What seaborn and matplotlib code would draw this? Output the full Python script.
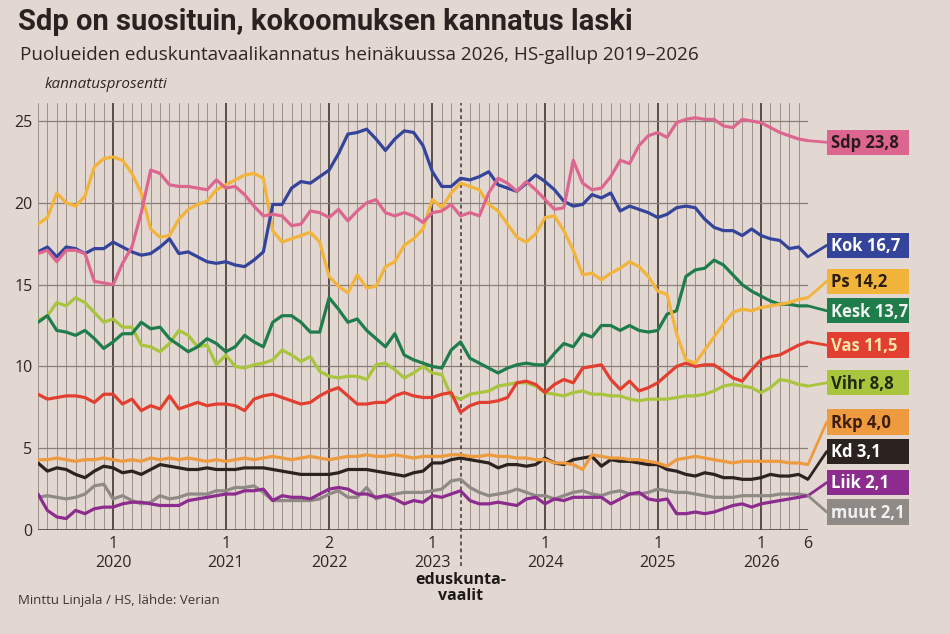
#!/usr/bin/env python3
"""HS-gallup: puolueiden kannatus 2019-2026, recreated with seaborn."""
import numpy as np
import pandas as pd
import matplotlib
matplotlib.use('Agg')
import matplotlib.pyplot as plt
from matplotlib.patches import Rectangle
import seaborn as sns

# one value per poll, May 2019 .. June 2026 (83 polls)
sdp = [16.9, 17.1, 16.4, 17.1, 17.1, 16.9, 15.2, 15.1, 15.0, 16.3,
       17.3, 19.4, 22.0, 21.8, 21.1, 21.0, 21.0, 20.9, 20.8, 21.4,
       20.9, 21.0, 20.5, 19.8, 19.2, 19.3, 19.2, 18.6, 18.7, 19.5,
       19.4, 19.1, 19.6, 18.9, 19.5, 20.0, 20.2, 19.4, 19.2, 19.4,
       19.2, 18.8, 19.4, 19.5, 19.9, 19.2, 19.4, 19.2, 20.6, 21.5,
       21.2, 20.7, 21.3, 20.8, 20.2, 19.6, 19.7, 22.6, 21.2, 20.8,
       20.9, 21.6, 22.6, 22.4, 23.5, 24.1, 24.3, 24.0, 24.9, 25.1,
       25.2, 25.1, 25.1, 24.7, 24.6, 25.1, 25.0, 24.9, 24.6, 24.3,
       24.1, 23.9, 23.8]
kok = [17.0, 17.3, 16.7, 17.3, 17.2, 16.9, 17.2, 17.2, 17.6, 17.3,
       17.0, 16.8, 16.9, 17.3, 17.8, 16.9, 17.0, 16.7, 16.4, 16.3,
       16.4, 16.2, 16.1, 16.5, 17.0, 19.9, 19.9, 20.9, 21.3, 21.2,
       21.6, 22.0, 23.0, 24.2, 24.3, 24.5, 23.9, 23.2, 23.9, 24.4,
       24.3, 23.5, 21.9, 21.0, 21.0, 21.5, 21.4, 21.6, 21.9, 21.1,
       20.9, 20.7, 21.2, 21.7, 21.3, 20.8, 20.1, 19.8, 19.9, 20.5,
       20.3, 20.6, 19.5, 19.8, 19.6, 19.4, 19.1, 19.3, 19.7, 19.8,
       19.7, 19.0, 18.5, 18.3, 18.3, 18.0, 18.4, 18.0, 17.8, 17.7,
       17.2, 17.3, 16.7]
ps = [18.7, 19.1, 20.6, 20.0, 19.8, 20.4, 22.2, 22.7, 22.8, 22.6,
      21.8, 20.6, 18.4, 17.9, 18.0, 19.0, 19.6, 19.9, 20.1, 20.8,
      21.1, 21.4, 21.7, 21.8, 21.5, 18.3, 17.6, 17.8, 18.0, 18.2,
      17.6, 15.5, 14.9, 14.5, 15.6, 14.8, 14.9, 16.1, 16.4, 17.4,
      17.8, 18.4, 20.2, 19.7, 20.6, 21.2, 21.0, 20.8, 19.9, 19.5,
      18.7, 17.9, 17.6, 18.1, 19.1, 19.2, 18.3, 17.1, 15.6, 15.7,
      15.3, 15.7, 16.0, 16.4, 16.1, 15.5, 14.6, 14.4, 12.0, 10.4,
      10.2, 11.0, 11.8, 12.6, 13.3, 13.5, 13.4, 13.6, 13.7, 13.8,
      13.9, 14.1, 14.2]
kesk = [12.7, 13.1, 12.2, 12.1, 11.9, 12.2, 11.7, 11.1, 11.5, 12.0,
        12.0, 12.7, 12.3, 12.4, 11.7, 11.3, 10.9, 11.2, 11.7, 11.4,
        10.9, 11.2, 11.9, 11.5, 11.2, 12.7, 13.1, 13.1, 12.7, 12.1,
        12.1, 14.2, 13.5, 12.7, 12.9, 12.2, 11.7, 11.2, 12.0, 10.7,
        10.4, 10.2, 10.0, 9.9, 11.0, 11.5, 10.5, 10.2, 9.9, 9.6,
        9.9, 10.1, 10.2, 10.1, 10.1, 10.8, 11.4, 11.2, 12.0, 11.8,
        12.5, 12.5, 12.2, 12.5, 12.2, 12.1, 12.2, 13.2, 13.4, 15.5,
        15.9, 16.0, 16.5, 16.2, 15.6, 15.0, 14.6, 14.3, 14.0, 13.8,
        13.8, 13.7, 13.7]
vas = [8.3, 8.0, 8.1, 8.2, 8.2, 8.1, 7.8, 8.3, 8.3, 7.7,
       8.0, 7.3, 7.6, 7.4, 8.2, 7.4, 7.6, 7.8, 7.6, 7.7,
       7.7, 7.6, 7.3, 8.0, 8.2, 8.3, 8.1, 7.9, 7.7, 7.8,
       8.2, 8.5, 8.7, 8.2, 7.7, 7.7, 7.8, 7.8, 8.2, 8.4,
       8.2, 8.1, 8.1, 8.3, 8.4, 7.2, 7.6, 7.8, 7.8, 7.9,
       8.1, 9.0, 9.1, 8.9, 8.4, 8.9, 9.2, 9.0, 9.9, 10.0,
       10.1, 9.2, 8.6, 9.1, 8.5, 8.7, 9.0, 9.5, 10.0, 10.2,
       10.0, 10.1, 10.1, 9.7, 9.3, 9.1, 9.8, 10.4, 10.6, 10.7,
       11.0, 11.3, 11.5]
vihr = [12.8, 13.1, 13.9, 13.7, 14.2, 13.9, 13.3, 12.7, 12.9, 12.4,
        12.4, 11.3, 11.2, 10.9, 11.4, 12.2, 11.9, 11.2, 11.3, 10.1,
        10.7, 10.0, 9.9, 10.1, 10.2, 10.4, 11.0, 10.7, 10.3, 10.6,
        9.7, 9.4, 9.3, 9.4, 9.4, 9.2, 10.1, 10.2, 9.8, 9.3,
        9.6, 10.0, 9.6, 9.5, 8.2, 8.0, 8.3, 8.4, 8.5, 8.8,
        8.9, 9.0, 9.0, 8.8, 8.4, 8.3, 8.2, 8.4, 8.5, 8.3,
        8.3, 8.2, 8.2, 8.0, 7.9, 8.0, 8.0, 8.0, 8.1, 8.2,
        8.2, 8.3, 8.5, 8.8, 8.9, 8.8, 8.7, 8.4, 8.7, 9.2,
        9.1, 8.9, 8.8]
rkp = [4.3, 4.3, 4.4, 4.3, 4.2, 4.3, 4.3, 4.4, 4.3, 4.2,
       4.3, 4.2, 4.4, 4.3, 4.4, 4.3, 4.4, 4.3, 4.2, 4.3,
       4.2, 4.3, 4.4, 4.3, 4.4, 4.5, 4.4, 4.3, 4.4, 4.5,
       4.4, 4.3, 4.4, 4.5, 4.5, 4.6, 4.5, 4.5, 4.6, 4.5,
       4.4, 4.5, 4.5, 4.5, 4.6, 4.6, 4.5, 4.5, 4.6, 4.5,
       4.5, 4.4, 4.4, 4.3, 4.3, 4.1, 4.1, 4.0, 3.7, 4.6,
       4.5, 4.4, 4.4, 4.3, 4.3, 4.2, 4.1, 3.9, 4.3, 4.4,
       4.5, 4.4, 4.3, 4.2, 4.1, 4.2, 4.2, 4.2, 4.2, 4.2,
       4.1, 4.1, 4.0]
kd = [4.1, 3.6, 3.8, 3.7, 3.4, 3.2, 3.6, 3.9, 3.8, 3.5,
      3.6, 3.4, 3.7, 4.0, 3.9, 3.8, 3.7, 3.7, 3.8, 3.7,
      3.7, 3.7, 3.8, 3.8, 3.8, 3.7, 3.6, 3.5, 3.4, 3.4,
      3.4, 3.4, 3.5, 3.7, 3.7, 3.7, 3.6, 3.5, 3.4, 3.3,
      3.5, 3.6, 4.1, 4.1, 4.3, 4.4, 4.3, 4.2, 4.1, 3.8,
      4.0, 4.0, 3.9, 4.0, 4.4, 4.1, 4.0, 4.3, 4.4, 4.5,
      3.9, 4.3, 4.2, 4.2, 4.1, 4.0, 4.0, 3.7, 3.6, 3.4,
      3.3, 3.5, 3.4, 3.2, 3.2, 3.1, 3.1, 3.2, 3.4, 3.3,
      3.3, 3.4, 3.1]
liik = [2.2, 1.2, 0.8, 0.7, 1.2, 1.0, 1.3, 1.4, 1.4, 1.6,
        1.7, 1.7, 1.6, 1.5, 1.5, 1.5, 1.8, 1.9, 2.0, 2.1,
        2.2, 2.2, 2.4, 2.4, 2.5, 1.8, 2.1, 2.0, 2.0, 1.9,
        2.2, 2.5, 2.6, 2.5, 2.2, 2.2, 2.0, 2.1, 1.9, 1.6,
        1.8, 1.7, 2.1, 2.0, 2.2, 2.4, 1.8, 1.6, 1.6, 1.7,
        1.6, 1.5, 1.9, 2.0, 1.6, 1.9, 1.8, 2.0, 2.0, 2.0,
        2.0, 1.6, 1.9, 2.2, 2.3, 1.9, 1.8, 1.9, 1.0, 1.0,
        1.1, 1.0, 1.1, 1.3, 1.5, 1.6, 1.4, 1.6, 1.7, 1.8,
        1.9, 2.0, 2.1]
muut = [2.0, 2.1, 2.0, 1.9, 2.0, 2.2, 2.7, 2.8, 1.9, 2.1,
        1.8, 1.6, 1.7, 2.1, 1.9, 2.0, 2.2, 2.2, 2.2, 2.4,
        2.4, 2.6, 2.6, 2.7, 2.3, 1.8, 1.8, 1.8, 1.8, 1.8,
        1.9, 2.2, 2.4, 2.0, 2.0, 2.6, 1.9, 2.1, 2.2, 2.3,
        2.3, 2.3, 2.4, 2.5, 3.0, 3.1, 2.6, 2.3, 2.1, 2.2,
        2.3, 2.5, 2.3, 2.1, 2.1, 1.9, 2.1, 2.3, 2.4, 2.2,
        2.1, 2.3, 2.4, 2.2, 2.2, 2.3, 2.5, 2.4, 2.3, 2.3,
        2.2, 2.1, 2.0, 2.0, 2.0, 2.1, 2.1, 2.1, 2.1, 2.2,
        2.2, 2.2, 2.1]

parties = ['Sdp', 'Kok', 'Ps', 'Kesk', 'Vas', 'Vihr', 'Rkp', 'Kd', 'Liik', 'muut']
series = [sdp, kok, ps, kesk, vas, vihr, rkp, kd, liik, muut]

# x axis: poll index of the first poll of each year, and its month
year_ticks = [8, 20, 31, 42, 54, 66, 77, 82]
year_labels = ['1\n2020', '1\n2021', '2\n2022', '1\n2023', '1\n2024', '1\n2025', '1\n2026', '6']
election_poll = 45

colors = {'Sdp': '#dc6690', 'Kok': '#34449a', 'Ps': '#f2b43a', 'Kesk': '#1f7d4c',
          'Vas': '#e23f31', 'Vihr': '#a9c53e', 'Rkp': '#ee9a3e', 'Kd': '#2a2320',
          'Liik': '#8c2c8e', 'muut': '#8f8a86'}
text_colors = {'Sdp': '#2a1a1e', 'Kok': '#ffffff', 'Ps': '#2a1e10', 'Kesk': '#f2f2f2',
               'Vas': '#fbe6a6', 'Vihr': '#1f2a12', 'Rkp': '#3a1c10', 'Kd': '#ffffff',
               'Liik': '#ffffff', 'muut': '#f0f0f0'}
# vertical centre of each end label box (data units)
label_y = {'Sdp': 23.7, 'Kok': 17.4, 'Ps': 15.2, 'Kesk': 13.4, 'Vas': 11.3,
           'Vihr': 9.0, 'Rkp': 6.6, 'Kd': 4.8, 'Liik': 2.9, 'muut': 1.1}

n = len(sdp)
df = pd.DataFrame({p: v for p, v in zip(parties, series)})
df['kysely'] = np.arange(n)
long = df.melt(id_vars='kysely', var_name='puolue', value_name='kannatus')

sns.set_theme(style='white')
plt.rcParams['font.family'] = ['Open Sans', 'DejaVu Sans']
BG = '#e3d7d1'
INK = '#2e2624'
GRID = '#9a8f89'

fig = plt.figure(figsize=(9.5, 6.34), dpi=100, facecolor=BG)
ax = fig.add_axes([0.04, 0.164, 0.8105, 0.6735], facecolor=BG)
ymax = 26.1
xmax = n - 1

# grid: one vertical line per poll, heavier at the first poll of a year
for i in range(n):
    if i in year_ticks[:-1]:
        ax.plot([i, i], [0, ymax], color='#40362f', lw=1.2, zorder=1)
    elif i == election_poll:
        continue
    else:
        ax.plot([i, i], [0, ymax], color=GRID, lw=0.7, zorder=1)
for yv in [5, 10, 15, 20, 25]:
    ax.plot([0, xmax], [yv, yv], color='#8a7e77', lw=0.9, zorder=1)
ax.plot([0, xmax], [0, 0], color='#4e4440', lw=1.2, zorder=1)
ax.plot([election_poll, election_poll], [-2.2, ymax], color='#3e3430', lw=1.1,
        ls=(0, (2.5, 2)), clip_on=False, zorder=1)

order = parties[::-1]
sns.lineplot(data=long, x='kysely', y='kannatus', hue='puolue', hue_order=order,
             palette=colors, linewidth=2.3, legend=False, ax=ax, zorder=3)

ax.set_xlim(0, xmax)
ax.set_ylim(0, ymax)
for s in ax.spines.values():
    s.set_visible(False)
ax.set_xlabel('')
ax.set_ylabel('')
ax.set_yticks([0, 5, 10, 15, 20, 25])
ax.set_yticklabels(['0', '5', '10', '15', '20', '25'], fontsize=11.5, color=INK)
ax.set_xticks(year_ticks)
ax.set_xticklabels(year_labels, fontsize=11.5, color=INK, linespacing=1.25)
ax.tick_params(axis='both', length=0)
ax.tick_params(axis='y', pad=4)
ax.tick_params(axis='x', pad=4)

# end labels
box_x, box_w, box_h = 84.0, 8.8, 1.55
for p, vals in zip(parties, series):
    ly = label_y[p]
    ax.plot([xmax, box_x], [vals[-1], ly], color=colors[p], lw=2.0,
            clip_on=False, zorder=3)
    ax.add_patch(Rectangle((box_x, ly - box_h / 2), box_w, box_h, facecolor=colors[p],
                           edgecolor='none', clip_on=False, zorder=4))
    txt = f'{p} {vals[-1]:.1f}'.replace('.', ',')
    ax.text(box_x + 0.5, ly - 0.05, txt, ha='left', va='center', fontsize=12,
            fontweight='bold', color=text_colors[p], clip_on=False, zorder=5)

ax.text(election_poll, -2.55, 'eduskunta-\nvaalit', ha='center', va='top',
        fontsize=11.5, fontweight='bold', color='#1e1a18', linespacing=1.05,
        clip_on=False)

fig.text(0.019, 0.965, 'Sdp on suosituin, kokoomuksen kannatus laski', ha='left',
         va='center', fontsize=21, fontweight='bold', color='#2a2220',
         family=['Roboto', 'DejaVu Sans'])
fig.text(0.021, 0.913, 'Puolueiden eduskuntavaalikannatus heinäkuussa 2026, HS-gallup 2019–2026',
         ha='left', va='center', fontsize=13.6, color=INK)
fig.text(0.047, 0.866, 'kannatusprosentti', ha='left', va='center', fontsize=11,
         style='italic', color=INK)
fig.text(0.019, 0.053, 'Minttu Linjala / HS, lähde: Verian', ha='left', va='center',
         fontsize=9.5, color='#3e3634')

fig.savefig('out.png', dpi=100, facecolor=BG)
